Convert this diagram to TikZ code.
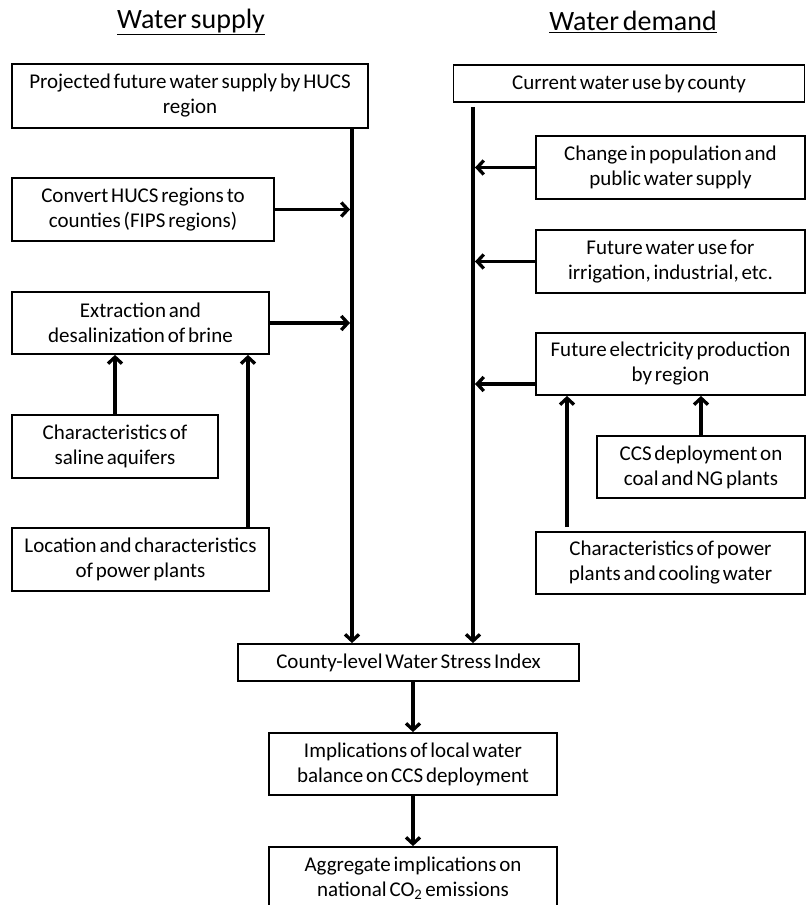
\documentclass[tikz,border=0pt]{standalone}
\usepackage{fontspec}
\setmainfont[WordSpace=0.6]{Carlito}
\usetikzlibrary{arrows.meta,calc}
\begin{document}
\begin{tikzpicture}[x=1pt,y=-1pt,
  box/.style={draw=black,line width=1.8pt,rectangle,inner sep=0pt,align=center,
    font=\fontsize{21}{25}\selectfont},
  title/.style={font=\fontsize{28}{30}\selectfont,inner sep=0pt},
  conn/.style={line width=3.8pt,-{Straight Barb[length=6.5pt,width=14pt,line width=3.3pt]}}]
\useasboundingbox (0,0) rectangle (806,905);
\clip (0,0) rectangle (806,905);
% titles
\node[title] (ts) at (191,22) {\underline{Water supply}};
\node[title] (td) at (633,22) {\underline{Water demand}};
% supply side
\node[box,minimum width=356pt,minimum height=64pt] (p1) at (190,96) {Projected future water supply by HUCS\\region};
\node[box,minimum width=262pt,minimum height=63pt] (c1) at (143,209.5) {Convert HUCS regions to\\counties (FIPS regions)};
\node[box,minimum width=257pt,minimum height=62pt] (e1) at (140.5,323) {Extraction and\\desalinization of brine};
\node[box,minimum width=206pt,minimum height=63pt] (s1) at (115,446.5) {Characteristics of\\saline aquifers};
\node[box,minimum width=257pt,minimum height=63pt] (l1) at (140.5,559.5) {Location and characteristics\\of power plants};
% demand side
\node[box,minimum width=351pt,minimum height=37pt] (d1) at (629,83.5) {Current water use by county};
\node[box,minimum width=269pt,minimum height=63pt] (ch) at (670.5,167.5) {Change in population and\\public water supply};
\node[box,minimum width=269pt,minimum height=63pt] (fw) at (670.5,261.5) {Future water use for\\irrigation, industrial, etc.};
\node[box,minimum width=269pt,minimum height=62pt] (fe) at (670.5,364) {Future electricity production\\by region};
\node[box,minimum width=208pt,minimum height=62pt] (cc) at (701,467) {CCS deployment on\\coal and NG plants};
\node[box,minimum width=269pt,minimum height=62pt] (cp) at (670.5,563) {Characteristics of power\\plants and cooling water};
% bottom chain
\node[box,minimum width=341pt,minimum height=37pt] (ws) at (408.5,662.5) {County-level Water Stress Index};
\node[box,minimum width=288pt,minimum height=62pt] (im) at (413,764) {Implications of local water\\balance on CCS deployment};
\node[box,minimum width=288pt,minimum height=63pt] (ag) at (413,878.5) {Aggregate implications on\\national CO\textsubscript{2} emissions};
% trunk and helper coordinates
\coordinate (lv) at (352,0);
\coordinate (rv) at (473,0);
\coordinate (xa) at (248,0);
\coordinate (xb) at (567,0);
\coordinate (ltop) at (p1.south -| lv);
\coordinate (lbot) at (ws.north -| lv);
\coordinate (rtop) at ($(d1.south -| rv)+(0,4)$);
\coordinate (rbot) at (ws.north -| rv);
\draw[conn] (ltop) -- (lbot);
\draw[conn] (rtop) -- (rbot);
% into left trunk
\draw[conn] (c1.east) -- ($(c1.east -| lv)+(-2,0)$);
\draw[conn] (e1.east) -- ($(e1.east -| lv)+(-2,0)$);
% into extraction
\draw[conn] (s1.north) -- (s1.north |- e1.south);
\draw[conn] (l1.north -| xa) -- (e1.south -| xa);
% into right trunk
\draw[conn] (ch.west) -- ($(ch.west -| rv)+(2,0)$);
\draw[conn] (fw.west) -- ($(fw.west -| rv)+(2,0)$);
\draw[conn] ($(fe.west)+(0,20)$) -- ($(fe.west -| rv)+(2,20)$);
% into electricity
\draw[conn] (cc.north) -- (cc.north |- fe.south);
\draw[conn] ($(cp.north -| xb)+(0,-4)$) -- (fe.south -| xb);
% bottom chain
\draw[conn] (ws.south -| im.north) -- (im.north);
\draw[conn] (im.south) -- (ag.north);
\end{tikzpicture}
\end{document}
